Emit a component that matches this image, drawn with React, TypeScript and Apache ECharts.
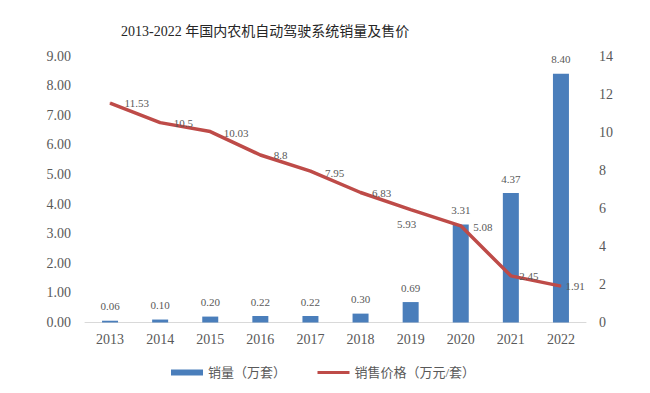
import React, { useEffect, useRef } from "react";
import * as echarts from "echarts";

const categories = ["2013", "2014", "2015", "2016", "2017", "2018", "2019", "2020", "2021", "2022"];
const salesVolume = [0.06, 0.1, 0.2, 0.22, 0.22, 0.3, 0.69, 3.31, 4.37, 8.4];
const salesPrice = [11.53, 10.5, 10.03, 8.8, 7.95, 6.83, 5.93, 5.08, 2.45, 1.91];
const priceLabelText = ["11.53", "10.5", "10.03", "8.8", "7.95", "6.83", "5.93", "5.08", "2.45", "1.91"];

// label placement for price labels (style config, separate from the data)
const priceLabelPos = ["right", "right", "right", "right", "right", "right", "bottom", "right", "right", "right"];
const priceLabelDist = [14, 13, 13, 13, 14, 11, 8, 12, 8, 4];
const priceLabelOffset: number[][] = [[0, 0], [0, 0], [0, 1], [0, 0], [0, 2], [0, 1], [-4, 0], [0, 1], [0, 0], [0, 0]];

const FONT = "Liberation Serif, Noto Sans CJK SC, serif";
const TEXT = "#595959";

export default function App() {
  const ref = useRef<HTMLDivElement>(null);
  useEffect(() => {
    if (!ref.current) return;
    const chart = echarts.init(ref.current, undefined, { renderer: "svg" });
    chart.setOption({
      animation: false,
      backgroundColor: "#ffffff",
      textStyle: { fontFamily: FONT, color: TEXT },
      title: {
        text: "2013-2022 年国内农机自动驾驶系统销量及售价",
        left: 116,
        top: 19,
        textStyle: { fontFamily: FONT, fontSize: 14, fontWeight: "normal", color: "#262626" },
      },
      legend: {
        left: 166,
        top: 361,
        itemWidth: 32,
        itemHeight: 6,
        itemGap: 30,
        textStyle: { fontFamily: FONT, fontSize: 13, color: TEXT },
        data: [
          { name: "销量（万套）", icon: "rect" },
          { name: "销售价格（万元/套）", itemStyle: { opacity: 0 }, lineStyle: { width: 3 } },
        ],
      },
      grid: { left: 85, right: 64, top: 56, bottom: 70.5, containLabel: false },
      xAxis: {
        type: "category",
        data: categories,
        axisLine: { show: true, lineStyle: { color: "#d9d9d9", width: 1 } },
        axisTick: { show: false },
        axisLabel: { fontFamily: FONT, fontSize: 14, color: TEXT, margin: 10 },
      },
      yAxis: [
        {
          type: "value",
          min: 0,
          max: 9,
          interval: 1,
          axisLine: { show: false },
          axisTick: { show: false },
          splitLine: { show: false },
          axisLabel: {
            fontFamily: FONT,
            fontSize: 14,
            color: TEXT,
            margin: 14,
            formatter: (v: number) => v.toFixed(2),
          },
        },
        {
          type: "value",
          min: 0,
          max: 14,
          interval: 2,
          position: "right",
          axisLine: { show: false },
          axisTick: { show: false },
          splitLine: { show: false },
          axisLabel: { fontFamily: FONT, fontSize: 14, color: TEXT, margin: 13 },
        },
      ],
      series: [
        {
          name: "销量（万套）",
          type: "bar",
          yAxisIndex: 0,
          barWidth: 16,
          data: salesVolume,
          itemStyle: { color: "#4a7ebb" },
          label: {
            show: true,
            position: "top",
            distance: 9,
            fontFamily: FONT,
            fontSize: 11,
            color: TEXT,
            formatter: (p: any) => Number(p.value).toFixed(2),
          },
        },
        {
          name: "销售价格（万元/套）",
          type: "line",
          yAxisIndex: 1,
          symbol: "circle",
          symbolSize: 1,
          showSymbol: true,
          itemStyle: { color: "#be4b48" },
          lineStyle: { color: "#be4b48", width: 3.5 },
          data: salesPrice.map((v, i) => ({
            value: v,
            label: {
              position: priceLabelPos[i],
              distance: priceLabelDist[i],
              offset: priceLabelOffset[i],
              formatter: priceLabelText[i],
            },
          })),
          label: {
            show: true,
            fontFamily: FONT,
            fontSize: 11,
            color: TEXT,
          },
          z: 3,
        },
      ],
    });
    return () => chart.dispose();
  }, []);
  return <div ref={ref} style={{ width: 650, height: 393, position: "absolute", left: 0, top: 0 }} />;
}
